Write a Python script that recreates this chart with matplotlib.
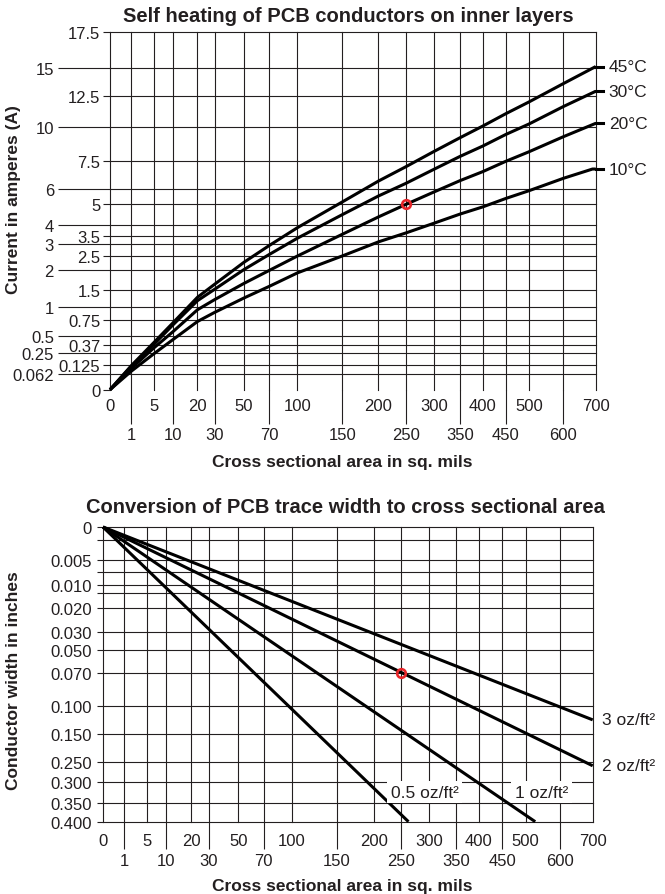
import numpy as np
import matplotlib
matplotlib.use("Agg")
import matplotlib.pyplot as plt

plt.rcParams['font.family'] = ['Liberation Sans', 'DejaVu Sans']

INK = '#231f20'
RED = '#e8262a'

# ---------------- data: self heating chart ----------------
area_top_row = [0, 5, 20, 50, 100, 200, 300, 400, 500, 700]
area_bottom_row = [1, 10, 30, 70, 150, 250, 350, 450, 600]

current_outer = [15, 10, 6, 4, 3, 2, 1, 0.5, 0.25, 0.062]
current_outer_labels = ['15', '10', '6', '4', '3', '2', '1', '0.5', '0.25', '0.062']
current_inner = [17.5, 12.5, 7.5, 5, 3.5, 2.5, 1.5, 0.75, 0.37, 0.125, 0]
current_inner_labels = ['17.5', '12.5', '7.5', '5', '3.5', '2.5', '1.5', '0.75', '0.37', '0.125', '0']

area = [0, 1, 5, 10, 20, 30, 50, 70, 100, 150, 200, 250, 300, 350, 400, 450, 500, 600, 700]
current_45C = [0, 0.12, 0.40, 0.70, 1.29, 1.65, 2.27, 2.96, 3.86, 5.16, 6.43, 7.2, 8.2, 9.2, 10.05, 11.05, 12.0, 13.6, 15.1]
current_30C = [0, 0.115, 0.37, 0.67, 1.185, 1.53, 2.0, 2.57, 3.36, 4.49, 5.55, 6.3, 7.06, 7.85, 8.6, 9.44, 10.22, 11.63, 12.9]
current_20C = [0, 0.10, 0.32, 0.57, 0.94, 1.22, 1.67, 1.98, 2.5, 3.56, 4.38, 5.0, 5.8, 6.45, 6.94, 7.5, 8.19, 9.28, 10.27]
area_10C = [0, 1, 5, 10, 20, 30, 50, 70, 100, 150, 200, 250, 300, 350, 400, 450, 500, 600, 690, 700]
current_10C = [0, 0.08, 0.24, 0.45, 0.72, 0.89, 1.27, 1.6, 1.92, 2.5, 3.15, 3.62, 4.06, 4.52, 4.88, 5.39, 5.89, 6.58, 7.08, 7.08]
temp_labels = ['45°C', '30°C', '20°C', '10°C']
example_area_top, example_current = 250, 5

# ---------------- data: conversion chart ----------------
width_ticks = [0, 0.005, 0.010, 0.020, 0.030, 0.050, 0.070, 0.100, 0.150, 0.250, 0.300, 0.350, 0.400]
width_labels = ['0', '0.005', '0.010', '0.020', '0.030', '0.050', '0.070', '0.100',
                '0.150', '0.250', '0.300', '0.350', '0.400']
width_minor = [0.002, 0.0075, 0.0135]

oz05_area, oz05_width = [0, 263], [0, 0.400]
oz1_area, oz1_width = [0, 528], [0, 0.400]
oz2_area, oz2_width = [0, 700], [0, 0.259]
oz3_area, oz3_width = [0, 700], [0, 0.125]
example_area_bot, example_width = 250, 0.070

# ---------------- scale definitions (nomograph spacing) ----------------
AREA_VALS = [0, 1, 5, 10, 20, 30, 50, 70, 100, 150, 200, 250, 300, 350, 400, 450, 500, 600, 700]
AREA_POS = [0, 0.0438, 0.0898, 0.1295, 0.18, 0.2156, 0.276, 0.3282, 0.386, 0.478,
            0.5528, 0.6088, 0.6665, 0.7205, 0.7675, 0.815, 0.8628, 0.9337, 1.0]
CUR_VALS = [0, 0.062, 0.125, 0.25, 0.37, 0.5, 0.75, 1, 1.5, 2, 2.5, 3, 3.5, 4, 5, 6, 7.5, 10, 12.5, 15, 17.5]
CUR_POS = [0, 0.0448, 0.0691, 0.1027, 0.1259, 0.1489, 0.1964, 0.2322, 0.2776, 0.3363, 0.3741,
           0.4063, 0.4309, 0.4622, 0.5182, 0.5616, 0.6391, 0.7359, 0.8226, 0.9001, 1.0]
WID_POS = [0, 0.111, 0.1968, 0.2759, 0.3553, 0.4184, 0.4965, 0.6064, 0.7024, 0.7984, 0.8643, 0.9365, 1.0]


def make_scale(vals, pos):
    v = np.asarray(vals, float)
    p = np.asarray(pos, float)
    return (lambda x: np.interp(x, v, p), lambda y: np.interp(y, p, v))


W, H = 665, 895
fig = plt.figure(figsize=(W / 100, H / 100), dpi=100)
ax1 = fig.add_axes([110 / W, (H - 390.7) / H, (595.7 - 110) / W, (390.7 - 33.3) / H])
ax2 = fig.add_axes([103 / W, (H - 822.7) / H, (592.7 - 103) / W, (822.7 - 528) / H])

GRID = dict(color=INK, lw=0.8, zorder=1, clip_on=False)
TICKFS = 12

for ax in (ax1, ax2):
    ax.set_xscale('function', functions=make_scale(AREA_VALS, AREA_POS))
    ax.set_xlim(0, 700)
    for s in ax.spines.values():
        s.set_visible(False)
    ax.set_xticks(area_top_row, labels=[str(v) for v in area_top_row])
    ax.set_xticks(area_bottom_row, labels=[str(v) for v in area_bottom_row], minor=True)
    for v in area_top_row + area_bottom_row:
        ax.axvline(v, **GRID)

# ---- top chart ----
ax1.set_yscale('function', functions=make_scale(CUR_VALS, CUR_POS))
ax1.set_ylim(0, 17.5)
ax1.set_yticks(current_outer, labels=current_outer_labels)
ax1.set_yticks(current_inner, labels=current_inner_labels, minor=True)
for v in current_outer + current_inner:
    if v != 0:
        ax1.axhline(v, **GRID)
ax1.tick_params(axis='x', which='major', length=0, pad=6, labelsize=TICKFS, labelcolor=INK)
ax1.tick_params(axis='x', which='minor', length=24.5, width=0.8, color=INK, pad=2.5,
                labelsize=TICKFS, labelcolor=INK)
ax1.tick_params(axis='y', which='major', length=37.4, width=0.8, color=INK, pad=3,
                labelsize=TICKFS, labelcolor=INK)
ax1.tick_params(axis='y', which='minor', length=5, width=0.8, color=INK, pad=2,
                labelsize=TICKFS, labelcolor=INK)

series = [(area, current_45C), (area, current_30C), (area, current_20C), (area_10C, current_10C)]
for (xs, ys), lab in zip(series, temp_labels):
    ax1.plot(xs, ys, color='black', lw=2.2, zorder=3, clip_on=False,
             solid_capstyle='butt', solid_joinstyle='round')
    ax1.plot([1.0, 1.016], [ys[-1], ys[-1]], transform=ax1.get_yaxis_transform(),
             color='black', lw=2.2, clip_on=False, zorder=3)
    ax1.text(1.027, ys[-1], lab, transform=ax1.get_yaxis_transform(), ha='left',
             va='center', fontsize=12.5, color=INK)
ax1.plot([example_area_top], [example_current], 'o', ms=6.2, mfc='none', mec=RED,
         mew=1.9, zorder=5, clip_on=False)

# ---- bottom chart ----
ax2.set_yscale('function', functions=make_scale(width_ticks, WID_POS))
ax2.set_ylim(0.4, 0)
ax2.set_yticks(width_ticks, labels=width_labels)
ax2.set_yticks(width_minor, minor=True)
for v in width_ticks + width_minor:
    ax2.axhline(v, **GRID)
ax2.tick_params(axis='x', which='major', length=0, pad=8, labelsize=TICKFS, labelcolor=INK)
ax2.tick_params(axis='x', which='minor', length=19.7, width=0.8, color=INK, pad=2.5,
                labelsize=TICKFS, labelcolor=INK)
ax2.tick_params(axis='y', which='both', length=4, width=0.8, color=INK, pad=4,
                labelsize=TICKFS, labelcolor=INK)

for xs, ys in [(oz05_area, oz05_width), (oz1_area, oz1_width),
               (oz2_area, oz2_width), (oz3_area, oz3_width)]:
    ax2.plot(xs, ys, color='black', lw=2.2, zorder=3, clip_on=False, solid_capstyle='butt')
ax2.text(1.018, oz3_width[-1], '3 oz/ft²', transform=ax2.get_yaxis_transform(),
         ha='left', va='center', fontsize=12.5, color=INK)
ax2.text(1.018, oz2_width[-1], '2 oz/ft²', transform=ax2.get_yaxis_transform(),
         ha='left', va='center', fontsize=12.5, color=INK)
box = dict(fc='white', ec='none', pad=2.5)
ax2.text(292, 0.325, '0.5 oz/ft²', ha='center', va='center', fontsize=12.5, color=INK,
         bbox=box, zorder=4)
ax2.text(546, 0.325, '1 oz/ft²', ha='center', va='center', fontsize=12.5, color=INK,
         bbox=box, zorder=4)
ax2.plot([example_area_bot], [example_width], 'o', ms=6.2, mfc='none', mec=RED,
         mew=1.9, zorder=5, clip_on=False)

# ---- titles and axis labels ----
TB = dict(fontweight='bold', color=INK)
fig.text(348 / W, 1 - 21.7 / H, 'Self heating of PCB conductors on inner layers',
         ha='center', va='baseline', fontsize=14.5, **TB)
fig.text(345 / W, 1 - 513.3 / H, 'Conversion of PCB trace width to cross sectional area',
         ha='center', va='baseline', fontsize=14.5, **TB)
fig.text(342 / W, 1 - 466.7 / H, 'Cross sectional area in sq. mils',
         ha='center', va='baseline', fontsize=12.5, **TB)
fig.text(342 / W, 1 - 890.7 / H, 'Cross sectional area in sq. mils',
         ha='center', va='baseline', fontsize=12.5, **TB)
fig.text(14 / W, 1 - 200 / H, 'Current in amperes (A)', rotation=90,
         ha='center', va='center', fontsize=12.5, **TB)
fig.text(14 / W, 1 - 681 / H, 'Conductor width in inches', rotation=90,
         ha='center', va='center', fontsize=12.5, **TB)

fig.savefig('out.png', dpi=100, facecolor='white')
